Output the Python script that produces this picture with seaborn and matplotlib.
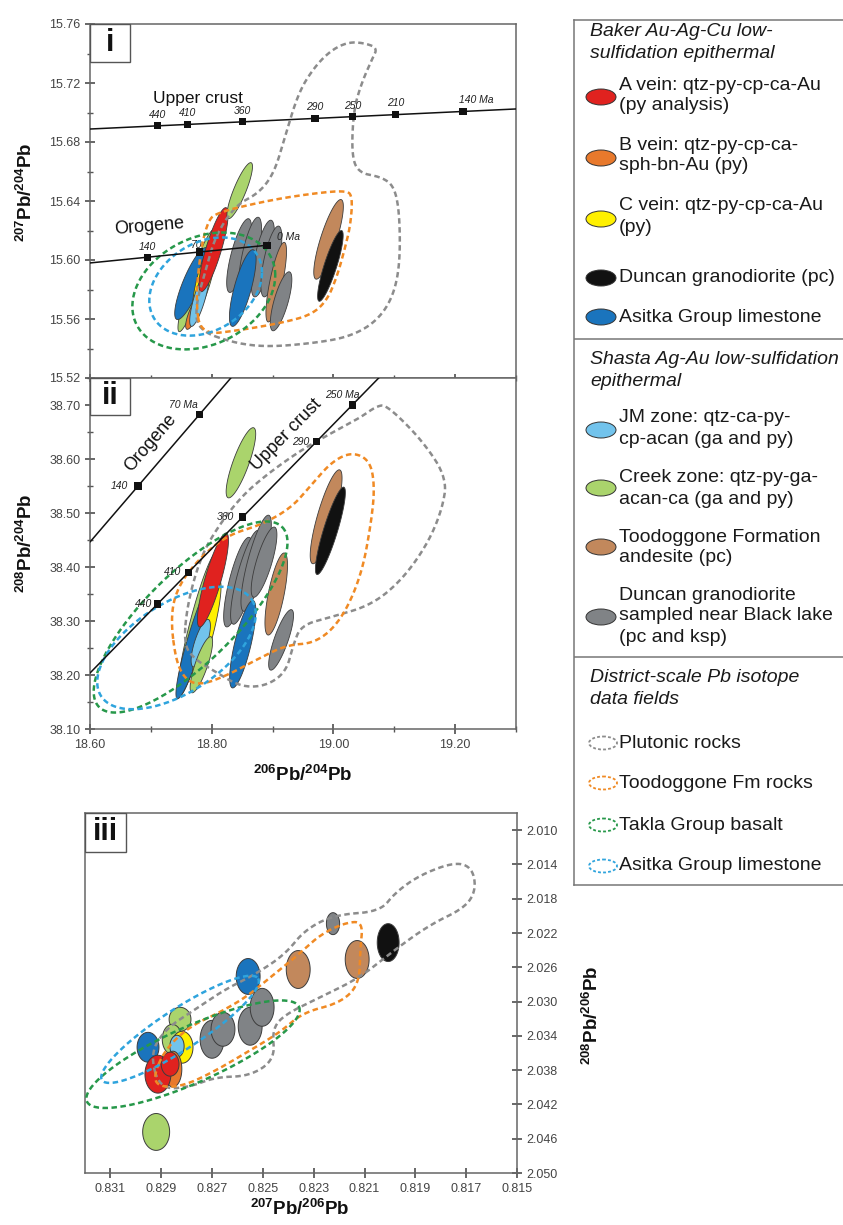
import numpy as np
import matplotlib
matplotlib.use("Agg")
import matplotlib.pyplot as plt
import seaborn as sns
from matplotlib.patches import Ellipse, Rectangle
from matplotlib.ticker import MultipleLocator, FormatStrFormatter

# ---------------------------------------------------------------- data
FILL = {
    "A vein": "#e0221f",
    "B vein": "#e8792c",
    "C vein": "#fff000",
    "Duncan pc": "#111111",
    "Asitka": "#1a74bd",
    "JM": "#72c3ec",
    "Creek": "#aad46c",
    "Toodoggone": "#c2885c",
    "Duncan BL": "#808386",
}
FIELD = {"plutonic": "#8c8c8c", "toodoggone": "#f08a24",
         "takla": "#27984a", "asitka": "#2fa4dd"}

# panel i: 207Pb/204Pb vs 206Pb/204Pb error ellipses
# (centre, half-extent of the long axis, horizontal half-width)
i_group = ["Creek", "Asitka", "B vein", "C vein", "JM", "A vein", "Creek",
           "Duncan BL", "Duncan BL", "Duncan BL", "Duncan BL", "Asitka",
           "Toodoggone", "Duncan BL", "Toodoggone", "Duncan pc"]
i_x = [18.775, 18.767, 18.770, 18.788, 18.780, 18.803, 18.846, 18.845, 18.863,
       18.884, 18.898, 18.851, 18.906, 18.914, 18.992, 18.995]
i_y = [15.586, 15.584, 15.564, 15.588, 15.574, 15.607, 15.647, 15.603, 15.602,
       15.601, 15.599, 15.581, 15.585, 15.572, 15.614, 15.596]
i_dx = [0.028, 0.023, 0.010, 0.015, 0.013, 0.020, 0.018, 0.015, 0.013, 0.013,
        0.0115, 0.0165, 0.013, 0.013, 0.020, 0.018]
i_dy = [0.0346, 0.0244, 0.011, 0.0237, 0.019, 0.0285, 0.019, 0.025, 0.027,
        0.026, 0.024, 0.026, 0.027, 0.020, 0.027, 0.024]
i_hw = [0.012, 0.0156, 0.008, 0.012, 0.0096, 0.0132, 0.0108, 0.0138, 0.0138,
        0.0138, 0.0128, 0.0144, 0.0108, 0.012, 0.0138, 0.0108]

# panel ii: 208Pb/204Pb vs 206Pb/204Pb
ii_group = ["Creek", "Creek", "Asitka", "C vein", "JM", "Creek", "A vein",
            "Duncan BL", "Duncan BL", "Duncan BL", "Duncan BL", "Asitka",
            "Toodoggone", "Duncan BL", "Toodoggone", "Duncan pc"]
ii_x = [18.848, 18.777, 18.774, 18.792, 18.782, 18.783, 18.802, 18.843, 18.856,
        18.873, 18.886, 18.851, 18.906, 18.914, 18.988, 18.995]
ii_y = [38.593, 38.293, 38.269, 38.283, 38.259, 38.219, 38.376, 38.372, 38.381,
        38.407, 38.409, 38.257, 38.350, 38.265, 38.493, 38.467]
ii_dx = [0.020, 0.030, 0.030, 0.020, 0.0116, 0.015, 0.0215, 0.018, 0.020, 0.020,
         0.0165, 0.0165, 0.013, 0.0165, 0.0215, 0.0215]
ii_dy = [0.065, 0.133, 0.113, 0.093, 0.044, 0.052, 0.087, 0.083, 0.087, 0.089,
         0.065, 0.081, 0.076, 0.056, 0.087, 0.081]
ii_hw = [0.0138, 0.0138, 0.0132, 0.012, 0.0108, 0.0108, 0.0138, 0.0149, 0.0149,
         0.0149, 0.0132, 0.0138, 0.0132, 0.012, 0.0149, 0.012]

# panel iii: 208Pb/206Pb vs 207Pb/206Pb
iii_group = ["Creek", "Asitka", "Creek", "Creek", "C vein", "JM", "B vein",
             "A vein", "A vein", "Asitka", "Duncan BL", "Duncan BL",
             "Duncan BL", "Duncan BL", "Toodoggone", "Duncan BL", "Toodoggone",
             "Duncan pc"]
iii_x = [0.82920, 0.82952, 0.82826, 0.82857, 0.82818, 0.82838, 0.82854, 0.82913,
         0.82865, 0.82558, 0.82700, 0.82657, 0.82550, 0.82503, 0.82361, 0.82224,
         0.82129, 0.82007]
iii_y = [2.04521, 2.03533, 2.03207, 2.03440, 2.03533, 2.03521, 2.03788, 2.03847,
         2.03730, 2.02707, 2.03440, 2.03323, 2.03288, 2.03067, 2.02626, 2.02091,
         2.02509, 2.02312]
iii_hw = [0.00053, 0.00043, 0.00043, 0.00039, 0.00043, 0.00028, 0.00035, 0.00051,
          0.00035, 0.00047, 0.00047, 0.00047, 0.00047, 0.00047, 0.00047, 0.00026,
          0.00047, 0.00043]
iii_hh = [0.00215, 0.00174, 0.0014, 0.00174, 0.00186, 0.00128, 0.00209, 0.00221,
          0.0014, 0.00209, 0.00221, 0.00198, 0.00221, 0.00221, 0.00221, 0.00128,
          0.00221, 0.00221]

# district-scale fields: outlines (plutonic, Toodoggone) and ellipses
i_plut_x = [18.7769, 18.8364, 18.8926, 18.9686, 19.0248, 19.0678, 19.0959, 19.1091,
            19.1091, 19.1008, 19.0793, 19.0413, 19.0298, 19.0331, 19.0463, 19.0628,
            19.0727, 19.0512, 19.0248, 18.9967, 18.9686, 18.9421, 18.9190, 18.9025,
            18.8777, 18.8397, 18.8066, 18.7901, 18.7736]
i_plut_y = [15.5525, 15.5437, 15.5410, 15.5437, 15.5478, 15.5573, 15.5729, 15.5953,
            15.6292, 15.6495, 15.6563, 15.6590, 15.6712, 15.7017, 15.7200, 15.7356,
            15.7437, 15.7471, 15.7478, 15.7424, 15.7308, 15.7132, 15.6814, 15.6590,
            15.6454, 15.6373, 15.6169, 15.5932, 15.5695]
i_tood_x = [18.7818, 18.7736, 18.7818, 18.7934, 18.8066, 18.8810, 18.9471, 19.0215,
            19.0314, 19.0281, 19.0182, 19.0066, 18.9901, 18.9636, 18.9140, 18.8479]
i_tood_y = [15.5492, 15.5729, 15.6068, 15.6258, 15.6319, 15.6393, 15.6441, 15.6475,
            15.6427, 15.6237, 15.6068, 15.5898, 15.5729, 15.5627, 15.5573, 15.5525]
i_takla = [18.787, 15.579, 0.1174, 0.0105, 0.0, 0.0382]
i_asitka = [18.790, 15.582, 0.0926, 0.0095, 0.0, 0.0319]

ii_plut_x = [18.7537, 18.7603, 18.7818, 18.8099, 18.8479, 18.8893, 18.9471, 18.9967,
             19.0430, 19.0711, 19.0876, 19.1455, 19.1868, 19.1785, 19.1537, 19.1124,
             19.0628, 18.9967, 18.9471, 18.9339, 18.9223, 18.8893, 18.8479, 18.8066,
             18.7736]
ii_plut_y = [38.2556, 38.3333, 38.4185, 38.4741, 38.5296, 38.5704, 38.6167, 38.6481,
             38.6759, 38.6981, 38.7000, 38.6352, 38.5648, 38.5056, 38.4407, 38.3759,
             38.3296, 38.3074, 38.2926, 38.2556, 38.2056, 38.1796, 38.1778, 38.2056,
             38.2278]
ii_tood_x = [18.7405, 18.7322, 18.7455, 18.7818, 18.8264, 18.8810, 18.9306, 18.9636,
             18.9967, 19.0298, 19.0595, 19.0678, 19.0628, 19.0463, 19.0132, 18.9719,
             18.9223, 18.8727, 18.8231, 18.7818, 18.7570]
ii_tood_y = [38.2278, 38.3111, 38.3667, 38.4185, 38.4593, 38.4778, 38.5093, 38.5519,
             38.5944, 38.6130, 38.5981, 38.5519, 38.4870, 38.3852, 38.3019, 38.2593,
             38.2556, 38.2278, 38.1981, 38.1815, 38.1907]
ii_takla = [18.7653, 38.3074, 0.1504, 0.1667, 0.0522, -0.0593]
ii_asitka = [18.7421, 38.2500, 0.1240, 0.0889, 0.0397, -0.0704]

iii_plut_x = [0.82905, 0.82944, 0.82885, 0.82767, 0.82649, 0.82531, 0.82413, 0.82334,
              0.82216, 0.82039, 0.81980, 0.81881, 0.81743, 0.81676, 0.81661, 0.81704,
              0.81842, 0.81980, 0.82117, 0.82275, 0.82413, 0.82464, 0.82452, 0.82550,
              0.82688, 0.82787]
iii_plut_y = [2.04022, 2.03614, 2.03323, 2.03091, 2.02858, 2.02684, 2.02451, 2.02160,
              2.01986, 2.01951, 2.01730, 2.01521, 2.01370, 2.01440, 2.01695, 2.01905,
              2.02102, 2.02393, 2.02719, 2.02951, 2.03149, 2.03323, 2.03672, 2.03870,
              2.03881, 2.03998]
iii_tood_x = [0.82932, 0.82885, 0.82787, 0.82669, 0.82562, 0.82472, 0.82373, 0.82275,
              0.82176, 0.82106, 0.82117, 0.82121, 0.82196, 0.82342, 0.82432, 0.82562,
              0.82696, 0.82814, 0.82905]
iii_tood_y = [2.03881, 2.03556, 2.03288, 2.03126, 2.02940, 2.02719, 2.02486, 2.02219,
              2.02079, 2.02067, 2.02393, 2.02800, 2.03017, 2.03126, 2.03358, 2.03591,
              2.03823, 2.03986, 2.03998]
iii_takla = [0.82775, 2.03614, -0.004173, -0.005524, -0.000453, 0.002977]
iii_asitka = [0.82826, 2.03324, -0.003071, -0.005930, -0.000433, 0.001980]

# model growth curves with age ticks (Ma)
uc_i_x = [18.60, 19.30]
uc_i_y = [15.6888, 15.7024]
uc_i_age = ["440", "410", "360", "290", "250", "210", "140 Ma"]
uc_i_ax = [18.711, 18.760, 18.851, 18.970, 19.031, 19.102, 19.213]
uc_i_ay = [15.6910, 15.6919, 15.6937, 15.6960, 15.6972, 15.6986, 15.7007]
or_i_x = [18.60, 18.891]
or_i_y = [15.598, 15.610]
or_i_age = ["140", "70", "0 Ma"]
or_i_ax = [18.694, 18.780, 18.891]
or_i_ay = [15.6019, 15.6054, 15.6100]

uc_ii_x = [18.60, 19.10]
uc_ii_y = [38.2037, 38.7795]
uc_ii_age = ["440", "410", "360", "290", "250 Ma"]
uc_ii_ax = [18.711, 18.762, 18.851, 18.972, 19.031]
uc_ii_ay = [38.3315, 38.3903, 38.4928, 38.6321, 38.7000]
or_ii_x = [18.60, 18.85]
or_ii_y = [38.4463, 38.7744]
or_ii_age = ["140", "70 Ma"]
or_ii_ax = [18.679, 18.780]
or_ii_ay = [38.5500, 38.6825]

# ---------------------------------------------------------------- style
sns.set_theme(style="ticks")
plt.rcParams.update({
    "font.family": ["Liberation Sans", "DejaVu Sans"],
    "mathtext.fontset": "custom",
    "mathtext.rm": "Liberation Sans:bold",
    "mathtext.bf": "Liberation Sans:bold",
    "mathtext.it": "Liberation Sans:italic",
    "axes.edgecolor": "#666666",
    "axes.linewidth": 1.1,
    "xtick.color": "#555555",
    "ytick.color": "#555555",
    "xtick.labelcolor": "#444444",
    "ytick.labelcolor": "#444444",
    "xtick.labelsize": 9,
    "ytick.labelsize": 9,
})

W, H = 843, 1225
fig = plt.figure(figsize=(W / 100, H / 100), dpi=100)


def frame(x0, y0, x1, y1):
    return [x0 / W, 1 - y1 / H, (x1 - x0) / W, (y1 - y0) / H]


ax1 = fig.add_axes(frame(90, 24, 516, 378))
ax2 = fig.add_axes(frame(90, 378, 516, 729))
ax3 = fig.add_axes(frame(85, 813, 517, 1173))
axl = fig.add_axes(frame(574, 20, 848, 885))

DASH = (0, (2.2, 1.4))
EDGE = "#3c3c3c"


def chaikin(x, y, n_iter=4):
    p = np.column_stack([x, y]).astype(float)
    for _ in range(n_iter):
        nxt = np.roll(p, -1, axis=0)
        q = 0.75 * p + 0.25 * nxt
        r = 0.25 * p + 0.75 * nxt
        p = np.empty((2 * len(q), 2))
        p[0::2] = q
        p[1::2] = r
    p = np.vstack([p, p[:1]])
    return p[:, 0], p[:, 1]


def ellipse_xy(cx, cy, ax_, ay_, bx_, by_, n=160):
    t = np.linspace(0, 2 * np.pi, n)
    return (cx + ax_ * np.cos(t) + bx_ * np.sin(t),
            cy + ay_ * np.cos(t) + by_ * np.sin(t))


def dashed(ax, x, y, color):
    sns.lineplot(x=x, y=y, sort=False, estimator=None, ax=ax, color=color,
                 lw=1.8, linestyle=DASH, dash_capstyle="butt", zorder=3)


def draw_tilted(ax, groups, xs, ys, dxs, dys, hws):
    for g, x, y, dx, dy, hw in zip(groups, xs, ys, dxs, dys, hws):
        ex, ey = ellipse_xy(x, y, dx, dy, hw, 0.0)
        ax.fill(ex, ey, facecolor=FILL[g], edgecolor=EDGE, lw=0.6, zorder=2)


def draw_curve(ax, lx, ly, ages, axs, ays, offsets):
    sns.lineplot(x=lx, y=ly, ax=ax, color="#111111", lw=1.1, zorder=4)
    sns.scatterplot(x=axs, y=ays, ax=ax, marker="s", s=28, color="#111111",
                    edgecolor="none", zorder=5)
    for a, x, y, (ox, oy, ha, z) in zip(ages, axs, ays, offsets):
        ax.annotate(a, (x, y), xytext=(ox, oy), textcoords="offset points",
                    ha=ha, va="center", fontsize=7.5, style="italic",
                    color="#222222", zorder=z)


def angle_of(ax, x, y):
    p = ax.transData.transform(np.column_stack([x, y]))
    return np.degrees(np.arctan2(p[1, 1] - p[0, 1], p[1, 0] - p[0, 0]))


def panel_tag(ax, text, w_px, h_px):
    bb = ax.get_position()
    aw, ah = bb.width * W, bb.height * H
    ax.add_patch(Rectangle((0, 1 - h_px / ah), w_px / aw, h_px / ah,
                           transform=ax.transAxes, facecolor="white",
                           edgecolor="#555555", lw=1.0, zorder=6))
    ax.text(w_px / aw / 2, 1 - h_px / ah / 2, text, transform=ax.transAxes,
            ha="center", va="center", fontsize=22, fontweight="bold",
            color="#111111", zorder=7)


# ---------------------------------------------------------------- panel i
ax1.set_xlim(18.60, 19.30)
ax1.set_ylim(15.52, 15.76)
draw_tilted(ax1, i_group, i_x, i_y, i_dx, i_dy, i_hw)
dashed(ax1, *chaikin(i_plut_x, i_plut_y), FIELD["plutonic"])
dashed(ax1, *chaikin(i_tood_x, i_tood_y), FIELD["toodoggone"])
dashed(ax1, *ellipse_xy(*i_takla), FIELD["takla"])
dashed(ax1, *ellipse_xy(*i_asitka), FIELD["asitka"])
draw_curve(ax1, uc_i_x, uc_i_y, uc_i_age, uc_i_ax, uc_i_ay,
           [(0, 8, "center", 6)] * 6 + [(-3, 8, "left", 6)])
draw_curve(ax1, or_i_x, or_i_y, or_i_age, or_i_ax, or_i_ay,
           [(0, 7, "center", 6), (-2, 5, "center", 1), (7, 6, "left", 6)])
ax1.text(18.777, 15.7095, "Upper crust", fontsize=12.5, color="#111111",
         ha="center", va="center", zorder=6)
ax1.text(18.6975, 15.623, "Orogene", fontsize=13, color="#111111",
         ha="center", va="center", rotation=5, zorder=6)
ax1.yaxis.set_major_locator(MultipleLocator(0.04))
ax1.yaxis.set_minor_locator(MultipleLocator(0.02))
ax1.yaxis.set_major_formatter(FormatStrFormatter("%.2f"))
ax1.xaxis.set_major_locator(MultipleLocator(0.2))
ax1.xaxis.set_minor_locator(MultipleLocator(0.1))
ax1.tick_params(axis="x", which="both", labelbottom=False, direction="inout",
                length=6)
ax1.tick_params(axis="x", which="minor", length=4)
ax1.tick_params(axis="y", which="major", direction="inout", length=7)
ax1.tick_params(axis="y", which="minor", direction="inout", length=4)
ax1.set_xlabel("")
ax1.set_ylabel("")
panel_tag(ax1, "i", 40, 38)

# ---------------------------------------------------------------- panel ii
ax2.set_xlim(18.60, 19.30)
ax2.set_ylim(38.10, 38.75)
draw_tilted(ax2, ii_group, ii_x, ii_y, ii_dx, ii_dy, ii_hw)
dashed(ax2, *chaikin(ii_plut_x, ii_plut_y), FIELD["plutonic"])
dashed(ax2, *chaikin(ii_tood_x, ii_tood_y), FIELD["toodoggone"])
dashed(ax2, *ellipse_xy(*ii_takla), FIELD["takla"])
dashed(ax2, *ellipse_xy(*ii_asitka), FIELD["asitka"])
draw_curve(ax2, uc_ii_x, uc_ii_y, uc_ii_age, uc_ii_ax, uc_ii_ay,
           [(-4, 0, "right", 6), (-5, 0, "right", 6), (-6, 0, "right", 6),
            (-5, 0, "right", 6), (5, 7, "right", 6)])
draw_curve(ax2, or_ii_x, or_ii_y, or_ii_age, or_ii_ax, or_ii_ay,
           [(-7, 0, "right", 6), (-1, 7, "right", 6)])
ax2.text(18.699, 38.630, "Orogene", fontsize=13, color="#111111",
         ha="center", va="center", rotation=angle_of(ax2, or_ii_x, or_ii_y),
         rotation_mode="anchor", zorder=6)
ax2.text(18.922, 38.644, "Upper crust", fontsize=13, color="#111111",
         ha="center", va="center", rotation=angle_of(ax2, uc_ii_x, uc_ii_y),
         rotation_mode="anchor", zorder=6)
ax2.set_yticks([38.10, 38.20, 38.30, 38.40, 38.50, 38.60, 38.70])
ax2.yaxis.set_minor_locator(MultipleLocator(0.05))
ax2.yaxis.set_major_formatter(FormatStrFormatter("%.2f"))
ax2.xaxis.set_major_locator(MultipleLocator(0.2))
ax2.xaxis.set_minor_locator(MultipleLocator(0.1))
ax2.xaxis.set_major_formatter(FormatStrFormatter("%.2f"))
ax2.tick_params(which="major", direction="inout", length=7)
ax2.tick_params(which="minor", direction="inout", length=4)
ax2.set_xlim(18.60, 19.30)
ax2.set_ylim(38.10, 38.75)
ax2.set_xlabel("")
ax2.set_ylabel("")
panel_tag(ax2, "ii", 40, 37)

# ---------------------------------------------------------------- panel iii
ax3.set_xlim(0.832, 0.815)
ax3.set_ylim(2.050, 2.008)
for g, x, y, hw, hh in zip(iii_group, iii_x, iii_y, iii_hw, iii_hh):
    ex, ey = ellipse_xy(x, y, hw, 0.0, 0.0, hh)
    ax3.fill(ex, ey, facecolor=FILL[g], edgecolor=EDGE, lw=0.7, zorder=2)
dashed(ax3, *chaikin(iii_plut_x, iii_plut_y), FIELD["plutonic"])
dashed(ax3, *chaikin(iii_tood_x, iii_tood_y), FIELD["toodoggone"])
dashed(ax3, *ellipse_xy(*iii_takla), FIELD["takla"])
dashed(ax3, *ellipse_xy(*iii_asitka), FIELD["asitka"])
ax3.set_xticks([0.831, 0.829, 0.827, 0.825, 0.823, 0.821, 0.819, 0.817, 0.815])
ax3.set_yticks([2.010, 2.014, 2.018, 2.022, 2.026, 2.030, 2.034, 2.038,
                2.042, 2.046, 2.050])
ax3.xaxis.set_major_formatter(FormatStrFormatter("%.3f"))
ax3.yaxis.set_major_formatter(FormatStrFormatter("%.3f"))
ax3.yaxis.tick_right()
ax3.tick_params(which="major", direction="inout", length=7)
ax3.set_xlim(0.832, 0.815)
ax3.set_ylim(2.050, 2.008)
ax3.set_xlabel("")
ax3.set_ylabel("")
panel_tag(ax3, "iii", 41, 39)

# axis titles
LBL = dict(fontsize=13.5, fontweight="bold", color="#111111")
fig.text(26 / W, 1 - 192 / H, r"$^{207}$Pb/$^{204}$Pb", rotation=90,
         ha="center", va="center", **LBL)
fig.text(26 / W, 1 - 543 / H, r"$^{208}$Pb/$^{204}$Pb", rotation=90,
         ha="center", va="center", **LBL)
fig.text(303 / W, 1 - 775 / H, r"$^{206}$Pb/$^{204}$Pb",
         ha="center", va="center", **LBL)
fig.text(300 / W, 1 - 1209 / H, r"$^{207}$Pb/$^{206}$Pb",
         ha="center", va="center", **LBL)
fig.text(592 / W, 1 - 1015 / H, r"$^{208}$Pb/$^{206}$Pb", rotation=90,
         ha="center", va="center", **LBL)

# ---------------------------------------------------------------- key
axl.set_xlim(0, 274)
axl.set_ylim(885, 20)
axl.set_xticks([])
axl.set_yticks([])
for s in axl.spines.values():
    s.set_color("#777777")
    s.set_linewidth(1.1)

TX = 45
HX = 16
KEY = dict(fontsize=14, color="#1a1a1a", va="center", ha="left")


def key_fill(y, group):
    axl.add_patch(Ellipse((27, y), 30, 16, facecolor=FILL[group],
                          edgecolor="#333333", lw=0.7))


def key_dash(y, field):
    axl.add_patch(Ellipse((29, y), 28, 13, facecolor="none",
                          edgecolor=FIELD[field], lw=1.3,
                          linestyle=(0, (1.6, 1.2))))


axl.text(HX, 32, "Baker Au-Ag-Cu low-", style="italic", **KEY)
axl.text(HX, 53, "sulfidation epithermal", style="italic", **KEY)
key_fill(97, "A vein")
axl.text(TX, 85, "A vein: qtz-py-cp-ca-Au", **KEY)
axl.text(TX, 106, "(py analysis)", **KEY)
key_fill(158, "B vein")
axl.text(TX, 145, "B vein: qtz-py-cp-ca-", **KEY)
axl.text(TX, 166, "sph-bn-Au (py)", **KEY)
key_fill(219, "C vein")
axl.text(TX, 205, "C vein: qtz-py-cp-ca-Au", **KEY)
axl.text(TX, 227, "(py)", **KEY)
key_fill(278, "Duncan pc")
axl.text(TX, 278, "Duncan granodiorite (pc)", **KEY)
key_fill(317, "Asitka")
axl.text(TX, 317, "Asitka Group limestone", **KEY)
axl.axhline(339, color="#777777", lw=1.1)

axl.text(HX, 360, "Shasta Ag-Au low-sulfidation", style="italic", **KEY)
axl.text(HX, 382, "epithermal", style="italic", **KEY)
key_fill(430, "JM")
axl.text(TX, 418, "JM zone: qtz-ca-py-", **KEY)
axl.text(TX, 440, "cp-acan (ga and py)", **KEY)
key_fill(488, "Creek")
axl.text(TX, 477, "Creek zone: qtz-py-ga-", **KEY)
axl.text(TX, 499, "acan-ca (ga and py)", **KEY)
key_fill(547, "Toodoggone")
axl.text(TX, 537, "Toodoggone Formation", **KEY)
axl.text(TX, 558, "andesite (pc)", **KEY)
key_fill(617, "Duncan BL")
axl.text(TX, 595, "Duncan granodiorite", **KEY)
axl.text(TX, 616, "sampled near Black lake", **KEY)
axl.text(TX, 637, "(pc and ksp)", **KEY)
axl.axhline(657, color="#777777", lw=1.1)

axl.text(HX, 678, "District-scale Pb isotope", style="italic", **KEY)
axl.text(HX, 699, "data fields", style="italic", **KEY)
key_dash(743, "plutonic")
axl.text(TX, 743, "Plutonic rocks", **KEY)
key_dash(783, "toodoggone")
axl.text(TX, 783, "Toodoggone Fm rocks", **KEY)
key_dash(825, "takla")
axl.text(TX, 825, "Takla Group basalt", **KEY)
key_dash(866, "asitka")
axl.text(TX, 866, "Asitka Group limestone", **KEY)

fig.savefig("out.png", dpi=100)
